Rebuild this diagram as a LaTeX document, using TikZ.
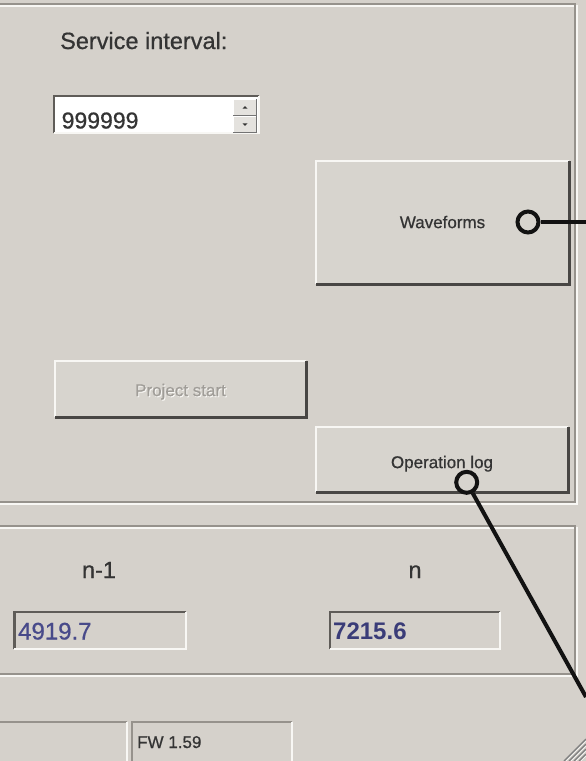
\documentclass[tikz,border=0pt]{standalone}
\usepackage{fontspec}
\setmainfont{Liberation Sans}
\newfontfamily\lblfont{Liberation Sans}[FakeBold=0.7]
\definecolor{bg}{RGB}{213,209,203}
\definecolor{face}{RGB}{215,212,206}
\definecolor{shadow}{RGB}{72,70,68}
\definecolor{sunk}{RGB}{95,92,88}
\definecolor{etch}{RGB}{150,146,140}
\definecolor{hilite}{RGB}{248,247,244}
\definecolor{txt}{RGB}{52,52,52}
\definecolor{dis}{RGB}{160,157,152}
\definecolor{numA}{RGB}{72,74,138}
\definecolor{numB}{RGB}{58,60,120}
\definecolor{spinface}{RGB}{228,226,222}
\newcommand\fbig{\lblfont\fontsize{23.5}{28}\selectfont}
\newcommand\fsml{\lblfont\fontsize{17}{20}\selectfont}
\begin{document}
\begin{tikzpicture}[x=1pt,y=-1pt,
  btn/.style={fill=face, inner sep=0pt, text=txt, font=\fsml, text depth=0pt},
  field/.style={inner sep=0pt, fill=bg},
  ring/.style={circle, draw=black!93, line width=4pt, minimum size=21pt, inner sep=0pt},
  conn/.style={draw=black!93, line width=4pt},
  lbl/.style={inner sep=0pt, anchor=base west, text=txt, font=\fbig},
  hl/.style={draw=hilite, line width=2pt},
  sh/.style={draw=shadow, line width=3pt},
  sk/.style={draw=sunk, line width=2.5pt},
  et/.style={draw=etch, line width=1.5pt},
  ew/.style={draw=hilite, line width=1.5pt}]
\fill[bg] (0,0) rectangle (586,761);
\useasboundingbox (0,0) rectangle (586,761);

% group frames (etched)
\draw[ew] (-5,6) -- (577,6) -- (577,504) -- (-5,504);
\draw[et] (-5,4) -- (575,4) -- (575,502) -- (-5,502);
\draw[ew] (-5,528) -- (577,528) -- (577,676) -- (-5,676);
\draw[et] (-5,526) -- (575,526) -- (575,674) -- (-5,674);

% service interval
\node[lbl] (svc) at (60,49) {Service interval:};
\node[field, fill=white, minimum width=205pt, minimum height=37pt] (spin) at (156.5,114.5) {};
\draw[sk] (spin.south west) |- (spin.north east);
\draw[draw=hilite, line width=1.5pt] (spin.south west) -| (spin.north east);
\node[lbl, font=\lblfont\fontsize{23}{28}\selectfont] (val) at (61.5,128.5) {999999};
\node[fill=spinface, inner sep=0pt, minimum width=23pt, minimum height=16pt] (up) at (245,107.5) {};
\node[fill=spinface, inner sep=0pt, minimum width=23pt, minimum height=16pt] (down) at (245,124.5) {};
\foreach \b in {up,down}{
  \draw[draw=white, line width=1pt] (\b.south west) |- (\b.north east);
  \draw[draw=black!55, line width=1.2pt] (\b.south west) -| (\b.north east);
}
\fill[black!80] ([xshift=-2.5pt,yshift=-1.2pt]up.center) -- ([xshift=2.5pt,yshift=-1.2pt]up.center) -- ([yshift=1.3pt]up.center) -- cycle;
\fill[black!80] ([xshift=-2.5pt,yshift=1.2pt]down.center) -- ([xshift=2.5pt,yshift=1.2pt]down.center) -- ([yshift=-1.3pt]down.center) -- cycle;

% buttons
\node[btn, minimum width=253pt, minimum height=123pt, text height=11.2pt] (wave) at (442.5,222.5) {Waveforms};
\node[btn, minimum width=251pt, minimum height=56pt, text height=14.2pt, text=dis] (proj) at (180.5,389)
  {\makebox[0pt][l]{\raisebox{-1pt}{\hspace*{1pt}\color{hilite}Project start}}Project start};
\node[btn, minimum width=252pt, minimum height=65pt, text height=17.2pt] (oplog) at (442,459.5) {Operation log};
\foreach \b in {wave,proj,oplog}{
  \draw[hl] (\b.south west) |- (\b.north east);
  \draw[sh] (\b.south west) -| (\b.north east);
}

% counters
\node[lbl, anchor=base] (nm1) at (99,578) {n-1};
\node[lbl, anchor=base] (nn) at (415,578) {n};
\node[field, minimum width=171pt, minimum height=37pt] (f1) at (100,630.5) {};
\node[field, minimum width=170pt, minimum height=37pt] (f2) at (415,630.5) {};
\foreach \b in {f1,f2}{
  \draw[sk] (\b.south west) |- (\b.north east);
  \draw[draw=hilite, line width=2pt] (\b.south west) -| (\b.north east);
}
\node[lbl, text=numA, font=\lblfont\fontsize{24}{28}\selectfont] (v1) at (18,639.5) {4919.7};
\node[lbl, text=numB, font=\fontsize{24}{28}\selectfont\bfseries] (v2) at (333,639.5) {7215.6};

% status bar
\node[field, minimum width=132pt, minimum height=44pt] (s1) at (61,744) {};
\node[field, minimum width=160pt, minimum height=44pt] (s2) at (212,744) {};
\foreach \b in {s1,s2}{
  \draw[draw=etch, line width=1.5pt] (\b.south west) |- (\b.north east);
  \draw[draw=hilite, line width=1.5pt] (\b.south west) -| (\b.north east);
}
\node[lbl, font=\fsml] (fw) at (137,748) {FW 1.59};

% size grip
\foreach \k in {7,12,17,22}{
  \draw[draw=hilite, line width=1.2pt] (586-\k+1.5,761) -- (586,761-\k+1.5);
  \draw[draw=black!50, line width=1.4pt] (586-\k,761) -- (586,761-\k);
}

% callout connectors
\node[ring] (c1) at (528,222) {};
\coordinate (e1) at (587,222);
\draw[conn] (c1) -- (e1);
\node[ring] (c2) at (466.7,482.3) {};
\coordinate (e2) at (586,697);
\draw[conn] (c2) -- (e2);
\end{tikzpicture}
\end{document}
